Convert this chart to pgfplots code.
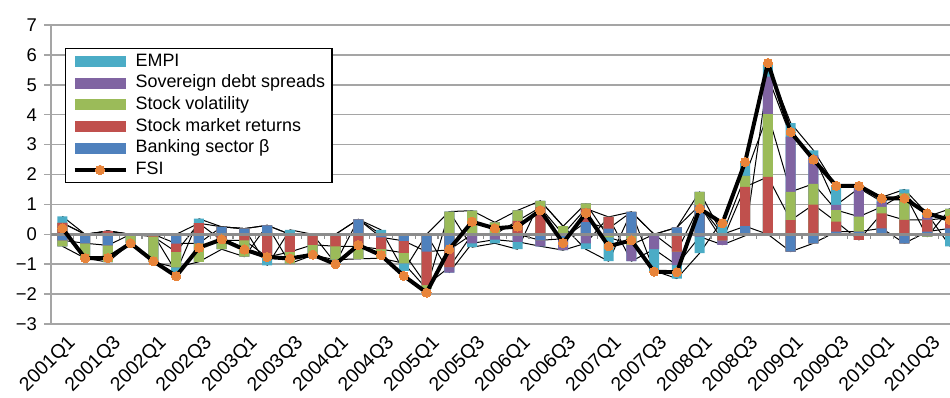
\documentclass[border=0pt]{standalone}
\usepackage{pgfplots}
\usepackage{pgfplotstable}
\pgfplotsset{compat=1.18}
\usepackage{fontspec}
\setmainfont{Liberation Sans}

\definecolor{cEMPI}{HTML}{4BACC6}
\definecolor{cSov}{HTML}{8064A2}
\definecolor{cVol}{HTML}{9BBB59}
\definecolor{cRet}{HTML}{C0504D}
\definecolor{cBank}{HTML}{4F81BD}
\definecolor{cFSI}{RGB}{232,132,58}
\definecolor{gridgray}{RGB}{165,165,165}
\definecolor{zerogray}{RGB}{140,140,140}

\pgfplotstableread{
i bank ret vol sov empi fsi
0 -0.20 0.38 -0.20 0 0.22 0.20
1 -0.30 0 -0.50 0 0 -0.80
2 -0.37 0.11 -0.56 0 0 -0.79
3 0 0 -0.30 0 0 -0.30
4 0 -0.08 -0.85 0 0 -0.90
5 -0.31 -0.28 -0.52 0 -0.15 -1.40
6 -0.30 0.37 -0.62 0 0.15 -0.45
7 0.25 -0.20 -0.30 0 0 -0.17
8 0.19 -0.20 -0.55 0 0 -0.51
9 0.30 -0.76 0 0 -0.28 -0.76
10 0 -0.59 -0.39 0 0.15 -0.81
11 -0.05 -0.30 -0.35 0 0 -0.68
12 0 -0.40 -0.45 0 -0.12 -1.00
13 0.50 -0.40 -0.42 0 0 -0.36
14 -0.10 -0.40 -0.30 0 0.15 -0.70
15 -0.22 -0.40 -0.35 0 -0.25 -1.39
16 -0.58 -1.12 -0.12 0 0 -1.95
17 -0.52 -0.58 0.76 -0.18 0 -0.50
18 0 0 0.79 -0.30 -0.13 0.42
19 0 0 0.40 -0.18 -0.12 0.20
20 0 0.45 0.35 -0.25 -0.25 0.26
21 -0.20 0.90 0.22 -0.20 0 0.80
22 -0.15 0 0.27 -0.38 0 -0.29
23 0.41 0.45 0.17 -0.30 -0.20 0.71
24 0.19 0.39 -0.10 0 -0.80 -0.40
25 0.75 0 -0.35 -0.55 0 -0.20
26 0 0 0 -0.50 -0.72 -1.25
27 0.23 -0.58 0 -0.45 -0.45 -1.27
28 0.97 0 0.45 -0.08 -0.55 0.86
29 0 -0.20 0 -0.15 0.47 0.37
30 0.27 1.32 0.36 -0.05 0.45 2.42
31 0 1.92 2.10 1.25 0.40 5.73
32 -0.58 0.47 0.95 1.85 0.45 3.42
33 -0.30 0.99 0.70 0.95 0.17 2.50
34 0.09 0.33 0.39 0.17 0.61 1.62
35 0.09 -0.19 0.50 0.95 0.10 1.62
36 0.20 0.50 0.22 0.17 0.15 1.20
37 -0.30 0.48 0.89 0 0.13 1.20
38 0.09 0.39 -0.08 0.11 0.10 0.70
39 0.20 0.35 0.30 0 -0.40 0.48
}\data

% cumulative stack positions (positive and negative stacks separately)
\def\PosA{max(\thisrow{bank},0)}
\def\PosB{\PosA+max(\thisrow{ret},0)}
\def\PosC{\PosB+max(\thisrow{vol},0)}
\def\PosD{\PosC+max(\thisrow{sov},0)}
\def\PosE{\PosD+max(\thisrow{empi},0)}
\def\NegA{min(\thisrow{bank},0)}
\def\NegB{\NegA+min(\thisrow{ret},0)}
\def\NegC{\NegB+min(\thisrow{vol},0)}
\def\NegD{\NegC+min(\thisrow{sov},0)}
\def\NegE{\NegD+min(\thisrow{empi},0)}

\pgfplotsset{
  mybar/.style={ybar, bar width=0.44, bar shift=0pt, draw=none, fill=#1,
    legend image code/.code={\fill[#1] (0bp,-5.5bp) rectangle (51bp,5.5bp);}},
  serline/.style={black, line width=1bp, no marks, forget plot, line join=round},
  fsilegend/.style={legend image code/.code={\draw[mark repeat=2, mark phase=2, ##1] plot coordinates {(0bp,0bp) (25.5bp,0bp) (51bp,0bp)};}},
}

\begin{document}
\begin{tikzpicture}
\begin{axis}[
  at={(51bp,74bp)}, anchor=south west,
  scale only axis, width=899bp, height=299bp,
  xmin=-0.5, xmax=39, ymin=-3, ymax=7,
  axis lines=left, axis line style={-, draw=gridgray, line width=1.5bp},
  ytick={-3,...,7}, yticklabels={−3,−2,−1,0,1,2,3,4,5,6,7},
  ymajorgrids, grid style={gridgray, line width=1.5bp},
  xtick={0.18,2.18,4.18,6.18,8.18,10.18,12.18,14.18,16.18,18.18,20.18,22.18,24.18,26.18,28.18,30.18,32.18,34.18,36.18,38.18},
  xticklabels={2001Q1,2001Q3,2002Q1,2002Q3,2003Q1,2003Q3,2004Q1,2004Q3,2005Q1,2005Q3,2006Q1,2006Q3,2007Q1,2007Q3,2008Q1,2008Q3,2009Q1,2009Q3,2010Q1,2010Q3},
  major x tick style={draw=none},
  ytick align=outside, major tick length=7bp,
  major y tick style={draw=gridgray, line width=1.5bp},
  tick label style={text=black},
  yticklabel style={font=\fontsize{18.5}{22}\selectfont, inner sep=0pt, xshift=-7bp},
  xticklabel style={font=\fontsize{19.5}{22}\selectfont, inner sep=0pt, rotate=45, anchor=north east},
  xticklabel shift=6bp,
  legend style={at={(0.0156,0.923)}, anchor=north west, draw=black, line width=1.2bp,
    font=\fontsize{18}{22}\selectfont, inner xsep=7bp, inner ysep=4bp,
    nodes={inner sep=0pt, text height=13.5bp, text depth=4bp},
    row sep=4.2bp, column sep=8bp},
  legend cell align=left,
]
% series lines (connecting segment ends of neighbouring bars)
\addplot[serline] table[x=i, y expr={ifthenelse(\thisrow{bank}>=0,\PosA,\NegA)}] {\data};
\addplot[serline] table[x=i, y expr={ifthenelse(\thisrow{ret}>=0,\PosB,\NegB)}] {\data};
\addplot[serline] table[x=i, y expr={ifthenelse(\thisrow{vol}>=0,\PosC,\NegC)}] {\data};
\addplot[serline] table[x=i, y expr={ifthenelse(\thisrow{sov}>=0,\PosD,\NegD)}] {\data};
\addplot[serline] table[x=i, y expr={ifthenelse(\thisrow{empi}>=0,\PosE,\NegE)}] {\data};
% positive stacks
\addplot[mybar=cEMPI] table[x=i, y expr={\PosE}] {\data};
\addplot[mybar=cSov]  table[x=i, y expr={\PosD}] {\data};
\addplot[mybar=cVol]  table[x=i, y expr={\PosC}] {\data};
\addplot[mybar=cRet]  table[x=i, y expr={\PosB}] {\data};
\addplot[mybar=cBank] table[x=i, y expr={\PosA}] {\data};
% negative stacks
\addplot[mybar=cEMPI, forget plot] table[x=i, y expr={\NegE}] {\data};
\addplot[mybar=cSov, forget plot]  table[x=i, y expr={\NegD}] {\data};
\addplot[mybar=cVol, forget plot]  table[x=i, y expr={\NegC}] {\data};
\addplot[mybar=cRet, forget plot]  table[x=i, y expr={\NegB}] {\data};
\addplot[mybar=cBank, forget plot] table[x=i, y expr={\NegA}] {\data};
% horizontal category axis at zero with small ticks between categories
\draw[zerogray, line width=3bp] (axis cs:-0.5,0) -- (axis cs:39,0);
\addplot[ycomb, zerogray, line width=1.2bp, no marks, forget plot] table[x expr=\thisrow{i}+0.5, y expr=-0.16] {\data};
% FSI
\addplot[black, line width=4bp, line join=round, mark=*, mark size=4.6bp,
  mark options={fill=cFSI, draw=cFSI, line width=0pt}, fsilegend] table[x=i, y=fsi] {\data};
\legend{EMPI, Sovereign debt spreads, Stock volatility, Stock market returns, Banking sector β, FSI}
\end{axis}
\pgfresetboundingbox
\path[use as bounding box] (0,0) rectangle (950bp,398bp);
\end{tikzpicture}
\end{document}
